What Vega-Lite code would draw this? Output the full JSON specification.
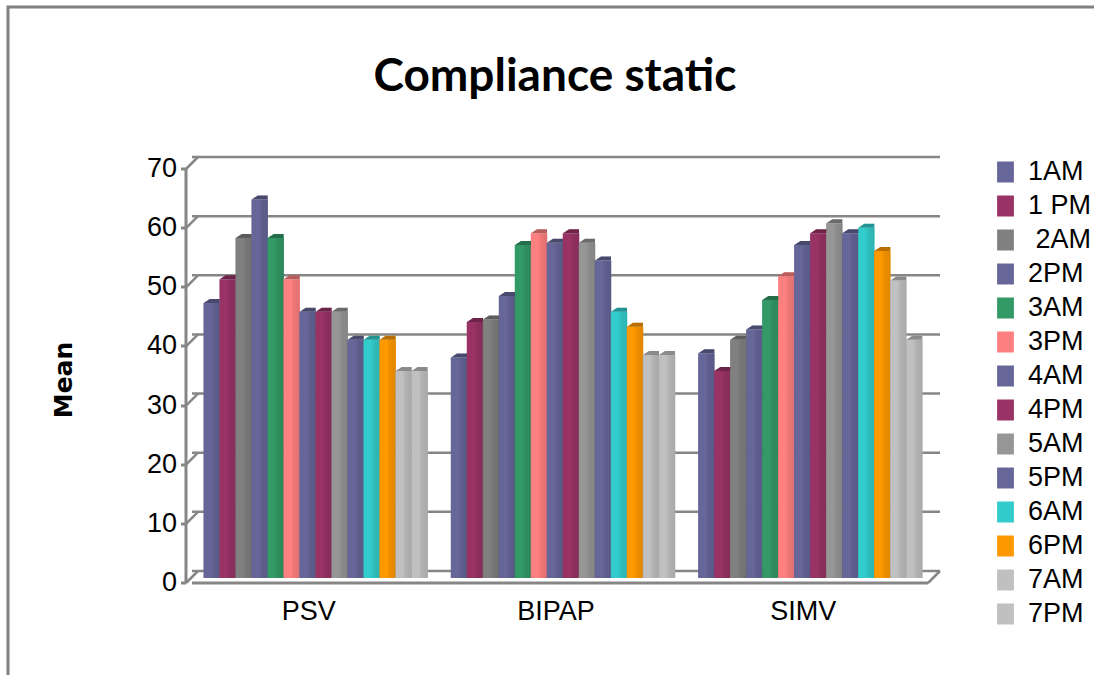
{"$schema":"https://vega.github.io/schema/vega-lite/v6.json","width":742,"height":414,"autosize":"none","padding":{"left":192,"top":164,"right":160,"bottom":97},"background":"white",
"title":{"text":"Compliance static","anchor":"middle","dx":-8,"offset":-100,"font":"Lato","fontWeight":"bold","fontSize":46,"color":"black"},
"config":{"view":{"stroke":null}},
"datasets":{"bars":[
{"mode":"PSV","series":"1AM","mean":46.5},{"mode":"PSV","series":"1 PM","mean":50.5},{"mode":"PSV","series":"\u200b\u00a02AM","mean":57.5},{"mode":"PSV","series":"2PM","mean":64},{"mode":"PSV","series":"3AM","mean":57.5},{"mode":"PSV","series":"3PM","mean":50.5},{"mode":"PSV","series":"4AM","mean":45},{"mode":"PSV","series":"4PM","mean":45},{"mode":"PSV","series":"5AM","mean":45},{"mode":"PSV","series":"5PM","mean":40.3},{"mode":"PSV","series":"6AM","mean":40.3},{"mode":"PSV","series":"6PM","mean":40.3},{"mode":"PSV","series":"7AM","mean":35},{"mode":"PSV","series":"7PM","mean":35},
{"mode":"BIPAP","series":"1AM","mean":37.3},{"mode":"BIPAP","series":"1 PM","mean":43.3},{"mode":"BIPAP","series":"\u200b\u00a02AM","mean":43.7},{"mode":"BIPAP","series":"2PM","mean":47.7},{"mode":"BIPAP","series":"3AM","mean":56.3},{"mode":"BIPAP","series":"3PM","mean":58.3},{"mode":"BIPAP","series":"4AM","mean":56.7},{"mode":"BIPAP","series":"4PM","mean":58.3},{"mode":"BIPAP","series":"5AM","mean":56.7},{"mode":"BIPAP","series":"5PM","mean":53.7},{"mode":"BIPAP","series":"6AM","mean":45},{"mode":"BIPAP","series":"6PM","mean":42.5},{"mode":"BIPAP","series":"7AM","mean":37.7},{"mode":"BIPAP","series":"7PM","mean":37.7},
{"mode":"SIMV","series":"1AM","mean":38},{"mode":"SIMV","series":"1 PM","mean":35},{"mode":"SIMV","series":"\u200b\u00a02AM","mean":40.3},{"mode":"SIMV","series":"2PM","mean":42},{"mode":"SIMV","series":"3AM","mean":47},{"mode":"SIMV","series":"3PM","mean":51},{"mode":"SIMV","series":"4AM","mean":56.3},{"mode":"SIMV","series":"4PM","mean":58.3},{"mode":"SIMV","series":"5AM","mean":60},{"mode":"SIMV","series":"5PM","mean":58.3},{"mode":"SIMV","series":"6AM","mean":59.2},{"mode":"SIMV","series":"6PM","mean":55.3},{"mode":"SIMV","series":"7AM","mean":50.3},{"mode":"SIMV","series":"7PM","mean":40.3}],
"ticks":[{"v":0},{"v":10},{"v":20},{"v":30},{"v":40},{"v":50},{"v":60},{"v":70}]},
"layer":[
{"data":{"name":"ticks"},"mark":{"type":"rule","color":"#868686","strokeWidth":2.5,"xOffset":6,"yOffset":-7},"encoding":{"y":{"field":"v","type":"quantitative","scale":{"domain":[0,70],"nice":false},"axis":{"title":"Mean","values":[0,10,20,30,40,50,60,70],"grid":false,"translate":5,"offset":11,"domainColor":"#868686","domainWidth":3,"tickColor":"#868686","tickWidth":3,"tickSize":5,"labelFont":"Liberation Sans","labelFontSize":27,"labelColor":"black","labelPadding":4,"titleFont":"DejaVu Sans","titleFontWeight":"bold","titleFontSize":25,"titleColor":"black","titlePadding":70,"titleY":211}}}},
{"data":{"name":"ticks"},"mark":{"type":"point","shape":"M-6 5 L6 -7","size":4,"filled":false,"opacity":1,"stroke":"#868686","strokeWidth":2.5},"encoding":{"x":{"datum":"PSV","type":"nominal","bandPosition":0},"y":{"field":"v","type":"quantitative"}}},
{"data":{"values":[{"v":0}]},"mark":{"type":"rule","color":"#868686","strokeWidth":3,"xOffset":-6,"yOffset":5},"encoding":{"y":{"field":"v","type":"quantitative"}}},
{"data":{"values":[{"v":0}]},"mark":{"type":"point","shape":"M-6 5 L6 -7","size":4,"filled":false,"opacity":1,"stroke":"#868686","strokeWidth":2.5},"encoding":{"x":{"datum":"SIMV","type":"nominal","bandPosition":1},"y":{"field":"v","type":"quantitative"}}},
{"data":{"values":[{"v":70}]},"mark":{"type":"point","shape":"M-184 511 V-157 H902","size":4,"filled":false,"opacity":1,"stroke":"#808080","strokeWidth":3},"encoding":{"x":{"datum":"PSV","type":"nominal","bandPosition":0},"y":{"field":"v","type":"quantitative"}}},
{"data":{"name":"bars"},"mark":{"type":"bar","width":16.5},"encoding":{
"x":{"field":"mode","type":"nominal","scale":{"domain":["PSV","BIPAP","SIMV"],"paddingInner":0,"paddingOuter":0},"axis":{"title":null,"domain":false,"ticks":false,"labelAngle":0,"labelAlign":"center","labelBaseline":"top","labelOffset":-7,"labelPadding":20,"labelFont":"Liberation Sans","labelFontSize":27,"labelColor":"black"}},
"xOffset":{"field":"series","type":"nominal","scale":{"domain":["1AM","1 PM","\u200b\u00a02AM","2PM","3AM","3PM","4AM","4PM","5AM","5PM","6AM","6PM","7AM","7PM"],"paddingOuter":0.73,"paddingInner":0}},
"y":{"field":"mean","type":"quantitative"},
"color":{"field":"series","type":"nominal","scale":{"domain":["1AM","1 PM","\u200b\u00a02AM","2PM","3AM","3PM","4AM","4PM","5AM","5PM","6AM","6PM","7AM","7PM"],"range":["#666699","#993366","#808080","#666699","#339966","#FF8080","#666699","#993366","#969696","#666699","#33CCCC","#FF9900","#C0C0C0","#C0C0C0"]},"legend":{"title":null,"orient":"none","legendX":800,"legendY":-5,"symbolType":"M-0.8 -1 H0.8 V1 H-0.8 Z","symbolSize":441,"symbolStrokeWidth":0,"labelFont":"Liberation Sans","labelFontSize":27,"labelColor":"black","labelOffset":9,"rowPadding":7,"clipHeight":26}}}},
{"data":{"name":"bars"},"mark":{"type":"bar","width":16.5,"fill":{"gradient":"linear","x1":0,"x2":1,"y1":0,"y2":0,"stops":[{"offset":0,"color":"rgba(0,0,0,0)"},{"offset":0.45,"color":"rgba(0,0,0,0)"},{"offset":0.6,"color":"rgba(0,0,0,0.07)"},{"offset":1,"color":"rgba(0,0,0,0.12)"}]}},"encoding":{
"x":{"field":"mode","type":"nominal"},"xOffset":{"field":"series","type":"nominal"},"y":{"field":"mean","type":"quantitative"}}},
{"data":{"name":"bars"},"mark":{"type":"point","shape":"M-8 0 L-2 -4 L8 -4 L8 0 Z","size":4,"filled":true,"opacity":1,"strokeWidth":0},"encoding":{
"x":{"field":"mode","type":"nominal"},"xOffset":{"field":"series","type":"nominal"},"y":{"field":"mean","type":"quantitative"},"color":{"field":"series","type":"nominal","legend":null}}},
{"data":{"name":"bars"},"mark":{"type":"point","shape":"M-8 0 L-2 -4 L8 -4 L8 0 Z","size":4,"filled":true,"opacity":0.28,"color":"black","strokeWidth":0},"encoding":{
"x":{"field":"mode","type":"nominal"},"xOffset":{"field":"series","type":"nominal"},"y":{"field":"mean","type":"quantitative"}}}
]}
